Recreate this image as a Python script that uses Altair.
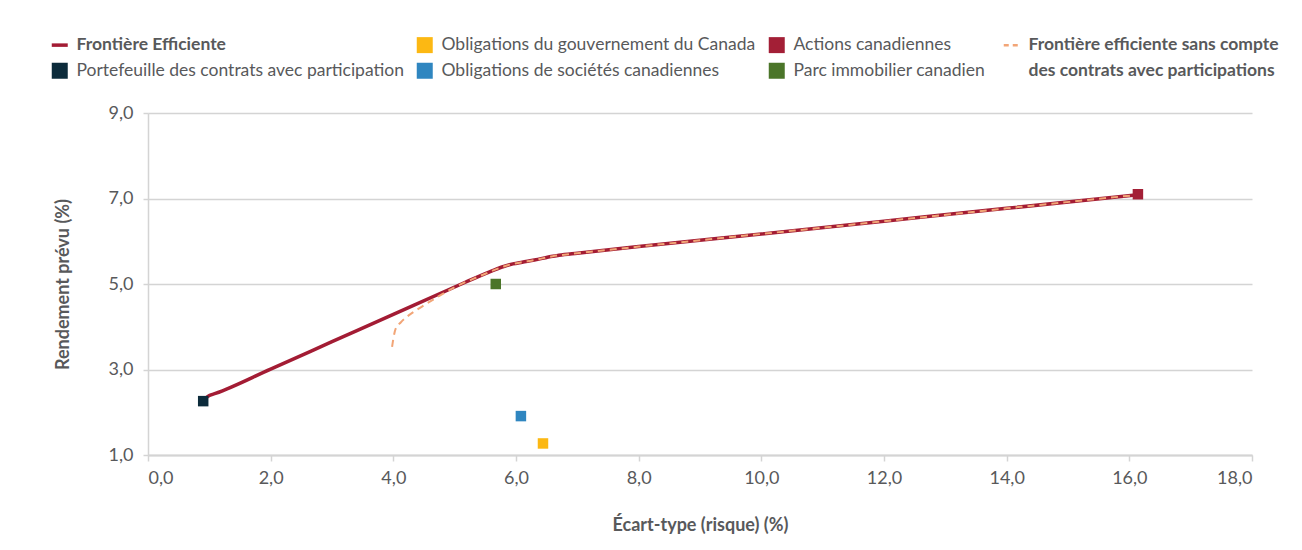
import altair as alt
import pandas as pd

# Legend entries (row-major order, 4 columns)
legend_order = [
    "Frontière Efficiente",
    "Obligations du gouvernement du Canada",
    "Actions canadiennes",
    "Frontière efficiente sans compte",
    "Portefeuille des contrats avec participation",
    "Obligations de sociétés canadiennes",
    "Parc immobilier canadien",
    "des contrats avec participations",
]
legend_colors = ["#a31c34", "#fcb813", "#a31f36", "#f2a577",
                 "#0c2b3b", "#2f86c0", "#4b7529", "#ffffff"]

# Asset points
asset_names = [
    "Portefeuille des contrats avec participation",
    "Obligations du gouvernement du Canada",
    "Obligations de sociétés canadiennes",
    "Actions canadiennes",
    "Parc immobilier canadien",
]
asset_risk = [0.90, 6.44, 6.08, 16.14, 5.67]
asset_return = [2.26, 1.27, 1.91, 7.10, 5.00]

# Efficient frontier
front_risk = [0.90, 0.95, 1.00, 1.10, 2.0, 3.0, 4.0, 5.0, 5.3, 5.5, 5.65, 5.8, 5.95,
              6.1, 6.3, 6.6, 6.7, 7.0, 8.0, 10.0, 12.0, 14.0, 16.1]
front_return = [2.26, 2.34, 2.39, 2.44, 3.01, 3.65, 4.29, 4.93, 5.12, 5.24, 5.33, 5.41,
                5.47, 5.51, 5.56, 5.65, 5.67, 5.72, 5.875, 6.17, 6.47, 6.77, 7.08]

# Efficient frontier without participating contracts
dash_risk = [3.98, 4.0, 4.04, 4.12, 4.21, 4.42, 4.69, 5.02, 5.3, 5.5, 5.65, 5.8, 5.95,
             6.1, 6.3, 6.6, 6.7, 7.0, 8.0, 10.0, 12.0, 14.0, 16.1]
dash_return = [3.53, 3.72, 3.96, 4.10, 4.22, 4.43, 4.67, 4.94, 5.12, 5.24, 5.33, 5.41,
               5.47, 5.51, 5.56, 5.65, 5.67, 5.72, 5.875, 6.17, 6.47, 6.77, 7.08]

x_ticks = [0, 2, 4, 6, 8, 10, 12, 14, 16, 18]
y_ticks = [1, 3, 5, 7, 9]

FONT = "Lato"
GREY = "#58595b"
AXIS_GREY = "#d4d4d4"

front_df = pd.DataFrame({"x": front_risk, "y": front_return})
dash_df = pd.DataFrame({"x": dash_risk, "y": dash_return})
asset_df = pd.DataFrame({"x": asset_risk, "y": asset_return, "series": asset_names})

num_expr = "replace(format(datum.value, '.1f'), '.', ',')"

x_enc = alt.X(
    "x:Q",
    scale=alt.Scale(domain=[0, 18], nice=False, zero=False),
    axis=alt.Axis(
        values=x_ticks, labelExpr=num_expr, grid=False,
        domainColor=AXIS_GREY, domainWidth=2, tickColor=AXIS_GREY, tickWidth=1.5, tickSize=6,
        labelFont=FONT, labelFontSize=18, labelColor=GREY, labelPadding=8,
        titleFont=FONT, titleFontSize=18, titleFontWeight="bold", titleColor=GREY, titlePadding=29,
    ),
    title="Écart-type (risque) (%)",
)
y_enc = alt.Y(
    "y:Q",
    scale=alt.Scale(domain=[1, 9], nice=False, zero=False),
    axis=alt.Axis(
        values=y_ticks, labelExpr=num_expr, grid=True, gridColor=AXIS_GREY, gridWidth=1.5,
        domainColor=AXIS_GREY, domainWidth=1.5, tickColor=AXIS_GREY, tickWidth=1.5, tickSize=5,
        labelFont=FONT, labelFontSize=18, labelColor=GREY, labelPadding=10,
        titleFont=FONT, titleFontSize=18, titleFontWeight="bold", titleColor=GREY, titlePadding=36,
    ),
    title="Rendement prévu (%)",
)

line_names = "(datum.value == 'Frontière Efficiente' || datum.value == 'Frontière efficiente sans compte')"
bold_names = ("(datum.value == 'Frontière Efficiente' || datum.value == 'Frontière efficiente sans compte'"
              " || datum.value == 'des contrats avec participations')")

solid = alt.Chart(front_df).mark_line(color="#a31c34", strokeWidth=3.5, interpolate="monotone").encode(
    x=x_enc, y=y_enc
)
dashed = alt.Chart(dash_df).mark_line(
    color="#f2a577", strokeWidth=2, strokeDash=[7, 5], interpolate="monotone"
).encode(x="x:Q", y="y:Q")

points = alt.Chart(asset_df).mark_square(size=110, opacity=1).encode(
    x="x:Q",
    y="y:Q",
    color=alt.Color(
        "series:N",
        scale=alt.Scale(domain=legend_order, range=legend_colors),
        legend=alt.Legend(
            title=None, orient="none", legendX=-97, legendY=-77, columns=4, direction="horizontal",
            columnPadding=12, rowPadding=7, padding=0, symbolSize=256, labelOffset=8, labelLimit=600,
            labelFont=FONT, labelFontSize=17.5, labelColor=GREY, labelBaseline="middle",
            symbolType=alt.ExprRef(expr=line_names + " ? 'stroke' : 'square'"),
            symbolStrokeColor=alt.ExprRef(expr="scale('color', datum.value)"),
            symbolStrokeWidth=alt.ExprRef(
                expr="datum.value == 'Frontière Efficiente' ? 3.5 : (datum.value == 'Frontière efficiente sans compte' ? 2.5 : 0)"
            ),
            symbolDash=alt.ExprRef(expr="datum.value == 'Frontière efficiente sans compte' ? [5, 4] : null"),
            labelFontWeight=alt.ExprRef(expr=bold_names + " ? 'bold' : 'normal'"),
            symbolOpacity=1,
        ),
    ),
)

chart = alt.layer(solid, dashed, points).properties(
    width=1104,
    height=342,
    autosize=alt.AutoSizeParams(type="none"),
    padding={"left": 140, "top": 105, "right": 34, "bottom": 82},
    background="white",
).configure_view(stroke=None)

chart.save("out.html", embed_options={"renderer": "svg", "actions": False})
